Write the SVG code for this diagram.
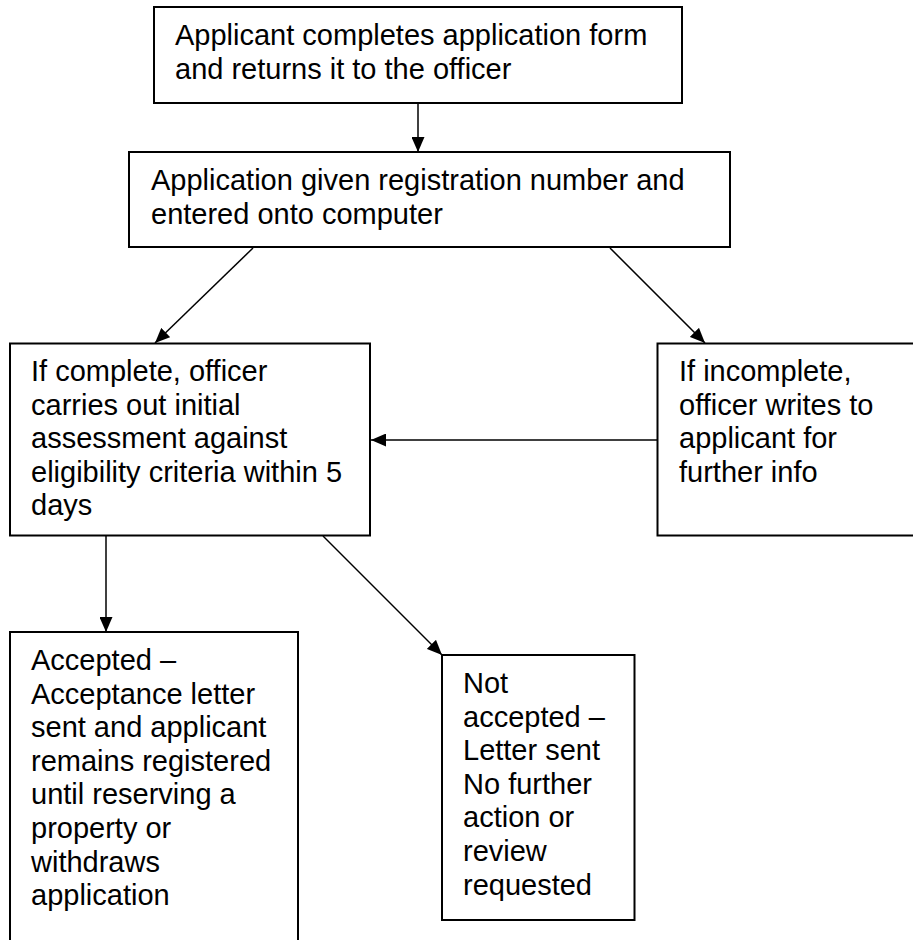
<svg xmlns="http://www.w3.org/2000/svg" width="913" height="940" viewBox="0 0 913 940">
<style>
.box{fill:#fff;stroke:#000;stroke-width:2}
.t{font-family:"Liberation Sans",Arial,sans-serif;font-size:29px;fill:#000}
.c{stroke:#000;stroke-width:1.5;fill:none;marker-end:url(#ah)}
</style>
<defs>
<marker id="ah" markerUnits="userSpaceOnUse" markerWidth="15" markerHeight="13" refX="15" refY="6.5" orient="auto">
<path d="M0,0 L15,6.5 L0,13 z" fill="#000"/>
</marker>
</defs>
<rect width="913" height="940" fill="#fff"/>
<g id="n1">
<rect class="box" x="154" y="7" width="528" height="96"/>
<text class="t" x="175" y="45">Applicant completes application form</text>
<text class="t" x="175" y="78.6">and returns it to the officer</text>
</g>
<g id="n2">
<rect class="box" x="129" y="152" width="601" height="95"/>
<text class="t" x="151" y="190">Application given registration number and</text>
<text class="t" x="151" y="223.6">entered onto computer</text>
</g>
<g id="n3">
<rect class="box" x="10" y="343.5" width="360" height="192"/>
<text class="t" x="31" y="381">If complete, officer</text>
<text class="t" x="31" y="414.6">carries out initial</text>
<text class="t" x="31" y="448.2">assessment against</text>
<text class="t" x="31" y="481.8">eligibility criteria within 5</text>
<text class="t" x="31" y="515.4">days</text>
</g>
<g id="n4">
<rect class="box" x="657.5" y="343.5" width="300" height="192"/>
<text class="t" x="679" y="381">If incomplete,</text>
<text class="t" x="679" y="414.6">officer writes to</text>
<text class="t" x="679" y="448.2">applicant for</text>
<text class="t" x="679" y="481.8">further info</text>
</g>
<g id="n5">
<rect class="box" x="10" y="632" width="288" height="340"/>
<text class="t" x="31" y="670">Accepted –</text>
<text class="t" x="31" y="703.6">Acceptance letter</text>
<text class="t" x="31" y="737.2">sent and applicant</text>
<text class="t" x="31" y="770.8">remains registered</text>
<text class="t" x="31" y="804.4">until reserving a</text>
<text class="t" x="31" y="838">property or</text>
<text class="t" x="31" y="871.6">withdraws</text>
<text class="t" x="31" y="905.2">application</text>
</g>
<g id="n6">
<rect class="box" x="442" y="655" width="192.5" height="265"/>
<text class="t" x="463" y="693">Not</text>
<text class="t" x="463" y="726.6">accepted –</text>
<text class="t" x="463" y="760.2">Letter sent</text>
<text class="t" x="463" y="793.8">No further</text>
<text class="t" x="463" y="827.4">action or</text>
<text class="t" x="463" y="861">review</text>
<text class="t" x="463" y="894.6">requested</text>
</g>
<g id="connectors">
<line class="c" x1="418" y1="104" x2="418" y2="152"/>
<line class="c" x1="253" y1="248" x2="155" y2="343"/>
<line class="c" x1="610" y1="248" x2="705" y2="343"/>
<line class="c" x1="657" y1="440" x2="371" y2="440"/>
<line class="c" x1="106" y1="536" x2="106" y2="632"/>
<line class="c" x1="323" y1="536" x2="442" y2="655"/>
</g>
</svg>
